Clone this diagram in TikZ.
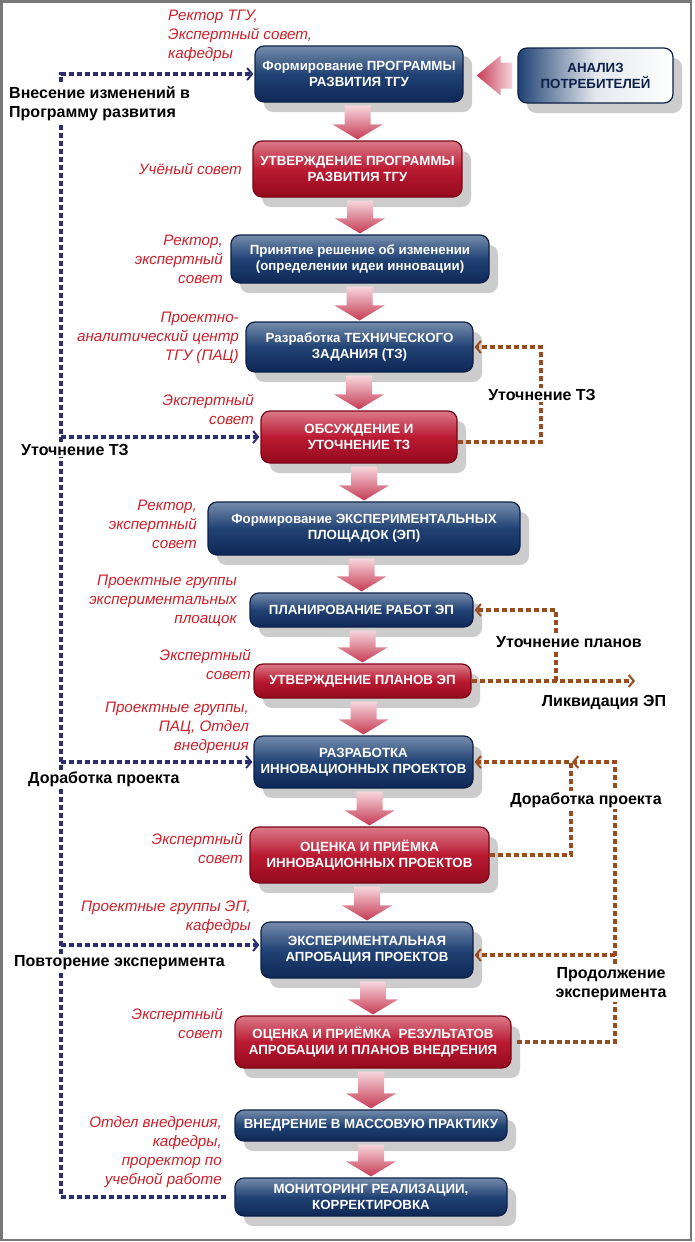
\documentclass[tikz,border=0pt]{standalone}
\usepackage{fontspec}
\setmainfont{Liberation Sans}
\usetikzlibrary{arrows.meta, calc, shadows}

\definecolor{blueT}{RGB}{118, 140, 172}
\definecolor{blueM}{RGB}{32, 66, 116}
\definecolor{blueB}{RGB}{14, 40, 86}
\definecolor{navyedge}{RGB}{12, 32, 72}
\definecolor{redT}{RGB}{218, 122, 136}
\definecolor{redM}{RGB}{186, 26, 50}
\definecolor{redB}{RGB}{148, 10, 30}
\definecolor{rededge}{RGB}{122, 4, 22}
\definecolor{arrowT}{RGB}{246, 214, 220}
\definecolor{arrowB}{RGB}{198, 58, 84}
\definecolor{whotext}{RGB}{204, 32, 42}
\definecolor{navydash}{RGB}{44, 44, 112}
\definecolor{browndash}{RGB}{152, 76, 32}
\definecolor{framegray}{RGB}{120, 120, 120}
\definecolor{shadowgray}{RGB}{204, 204, 204}

\newcommand{\blockfont}{\bfseries\fontsize{13.3}{16}\selectfont}
\newcommand{\whofont}{\itshape\fontsize{15.2}{19}\selectfont}
\newcommand{\notefont}{\bfseries\fontsize{16}{19}\selectfont}

% pink arrow between two stages
\newcommand{\flowarrow}[2]{%
  \shade[top color=arrowT, bottom color=arrowB]
    let \p1=(#1.south), \p2=(#2.north) in
    (\x2-13pt,\y1-3pt) -- (\x2+13pt,\y1-3pt) -- (\x2+13pt,\y2+16pt) -- (\x2+25pt,\y2+16pt)
    -- (\x2,\y2+1pt) -- (\x2-25pt,\y2+16pt) -- (\x2-13pt,\y2+16pt) -- cycle;}

\begin{document}
\begin{tikzpicture}[x=1pt, y=1pt,
  box/.style={rounded corners=9pt, line width=1.2pt, align=center, inner sep=0pt, font=\blockfont,
    drop shadow={shadow xshift=9pt, shadow yshift=-10pt, fill=shadowgray, opacity=1}},
  bluebox/.style={box, draw=navyedge, top color=blueT, bottom color=blueB, middle color=blueM, text=white},
  redbox/.style={box, draw=rededge, top color=redT, bottom color=redB, middle color=redM, text=white},
  anbox/.style={box, draw=navyedge, left color=blueM, right color=white, middle color=white!88!blueM, text=navyedge},
  who/.style={font=\whofont, text=whotext, align=right, anchor=east, inner sep=1pt},
  note/.style={font=\notefont, text=black, fill=white, inner sep=1pt},
  navylink/.style={draw=navydash, line width=3.2pt, dash pattern=on 5pt off 3pt},
  brownlink/.style={draw=browndash, line width=3.2pt, dash pattern=on 5pt off 3pt},
  tip/.style={-{Straight Barb[length=5pt, width=12pt, line width=2pt]}, shorten >=1pt}
]
  \useasboundingbox (0,0) rectangle (694,-1242);
  \draw[framegray, line width=2.5pt] (1.5,-1.5) rectangle (691,-1240);

  % stages
  \node[bluebox, minimum width=208, minimum height=56] (form) at (359,-74) {Формирование ПРОГРАММЫ\\РАЗВИТИЯ ТГУ};
  \node[anbox, minimum width=155, minimum height=55] (an) at (595.5,-75.5) {АНАЛИЗ\\ПОТРЕБИТЕЛЕЙ};
  \node[redbox, minimum width=209, minimum height=56] (utv) at (357.5,-169) {УТВЕРЖДЕНИЕ ПРОГРАММЫ\\РАЗВИТИЯ ТГУ};
  \node[bluebox, minimum width=258, minimum height=48] (prin) at (360,-259) {Принятие решение об изменении\\(определении идеи инновации)};
  \node[bluebox, minimum width=227, minimum height=50] (tz) at (359.5,-347) {Разработка ТЕХНИЧЕСКОГО\\ЗАДАНИЯ (ТЗ)};
  \node[redbox, minimum width=196, minimum height=52] (obs) at (359,-437) {ОБСУЖДЕНИЕ И\\УТОЧНЕНИЕ ТЗ};
  \node[bluebox, minimum width=312, minimum height=53] (plosh) at (364,-528.5) {Формирование ЭКСПЕРИМЕНТАЛЬНЫХ\\ПЛОЩАДОК (ЭП)};
  \node[bluebox, minimum width=223, minimum height=34] (plan) at (361.5,-610) {ПЛАНИРОВАНИЕ РАБОТ ЭП};
  \node[redbox, minimum width=217, minimum height=34] (utvp) at (362.5,-681) {УТВЕРЖДЕНИЕ ПЛАНОВ ЭП};
  \node[bluebox, minimum width=219, minimum height=52] (razr) at (363.5,-762) {РАЗРАБОТКА\\ИННОВАЦИОННЫХ ПРОЕКТОВ};
  \node[redbox, minimum width=239, minimum height=56] (ocp) at (369.5,-855) {ОЦЕНКА И ПРИЁМКА\\ИННОВАЦИОННЫХ ПРОЕКТОВ};
  \node[bluebox, minimum width=212, minimum height=56] (apr) at (367,-950) {ЭКСПЕРИМЕНТАЛЬНАЯ\\АПРОБАЦИЯ ПРОЕКТОВ};
  \node[redbox, minimum width=276, minimum height=52] (ocr) at (373,-1042) {ОЦЕНКА И ПРИЁМКА\ \ РЕЗУЛЬТАТОВ\\АПРОБАЦИИ И ПЛАНОВ ВНЕДРЕНИЯ};
  \node[bluebox, minimum width=272, minimum height=31] (vnedr) at (371,-1125.5) {ВНЕДРЕНИЕ В МАССОВУЮ ПРАКТИКУ};
  \node[bluebox, minimum width=272, minimum height=38] (mon) at (371,-1197) {МОНИТОРИНГ РЕАЛИЗАЦИИ,\\КОРРЕКТИРОВКА};

  % pink arrows
  \foreach \a/\b in {form/utv, utv/prin, prin/tz, tz/obs, obs/plosh, plosh/plan, plan/utvp,
                     utvp/razr, razr/ocp, ocp/apr, apr/ocr, ocr/vnedr, vnedr/mon}
    \flowarrow{\a}{\b};
  \shade[left color=arrowB, right color=arrowT]
    let \p1=(form.east), \p2=(an.west) in
    (\x1+13pt,\y2) -- (\x1+37pt,\y2+20pt) -- (\x1+37pt,\y2+13pt) -- (\x2-5pt,\y2+13pt)
    -- (\x2-5pt,\y2-13pt) -- (\x1+37pt,\y2-13pt) -- (\x1+37pt,\y2-20pt) -- cycle;

  % feedback lines
  \coordinate (rail) at (61,0);
  \coordinate (c1) at (541,0);
  \coordinate (c2) at (556,0);
  \coordinate (c3) at (571,0);
  \coordinate (c4) at (615,0);
  \coordinate (liq) at (636,-681);

  \draw[navylink, tip] ([xshift=-8pt]mon.west) -| (form.west -| rail) -- (form.west);
  \draw[navylink, tip] (obs.west -| rail) -- (obs.west);
  \draw[navylink, tip] (razr.west -| rail) -- (razr.west);
  \draw[navylink, tip] ([yshift=5pt]apr.west -| rail) -- ([yshift=5pt]apr.west);

  \draw[brownlink, tip] ([yshift=-5pt]obs.east) -| (tz.east -| c1) -- (tz.east);
  \draw[brownlink, tip] (utvp.east) -- (liq);
  \draw[brownlink, tip] (utvp.east -| c2) -- (plan.east -| c2) -- (plan.east);
  \draw[brownlink, tip] (ocp.east) -| (razr.east -| c3) -- (razr.east);
  \draw[brownlink, tip] ([xshift=5pt]ocr.east) -| (razr.east -| c4) -- (razr.east -| c3);
  \draw[brownlink, tip] ([yshift=-5pt]apr.east -| c4) -- ([yshift=-5pt]apr.east);

  % who does it
  \node[who, align=left, anchor=west] (w1) at (167,-36) {Ректор ТГУ,\\Экспертный совет,\\кафедры};
  \node[who] (w2) at (243,-169) {Учёный совет};
  \node[who] (w3) at (224,-259) {Ректор,\\экспертный\\совет};
  \node[who] (w4) at (240,-338) {Проектно-\\аналитический центр\\ТГУ (ПАЦ)};
  \node[who] (w5) at (255,-409) {Экспертный\\совет};
  \node[who] (w6) at (198,-524) {Ректор,\\экспертный\\совет};
  \node[who] (w7) at (238,-601) {Проектные группы\\экспериментальных\\плоащок};
  \node[who] (w8) at (252,-664) {Экспертный\\совет};
  \node[who] (w9) at (250,-728) {Проектные группы,\\ПАЦ, Отдел\\внедрения};
  \node[who] (w10) at (244,-848) {Экспертный\\совет};
  \node[who] (w11) at (252,-917) {Проектные группы ЭП,\\кафедры};
  \node[who] (w12) at (224,-1023) {Экспертный\\совет};
  \node[who] (w13) at (223,-1152) {Отдел внедрения,\\кафедры,\\проректор по\\учебной работе};

  % line labels
  \node[note, align=left, anchor=west] (n1) at (8,-103.5) {Внесение изменений в\\Программу развития};
  \node[note, anchor=west] (n2) at (20,-450) {Уточнение ТЗ};
  \node[note, anchor=west] (n3) at (27,-779) {Доработка проекта};
  \node[note, anchor=west] (n4) at (13,-963) {Повторение эксперимента};
  \node[note] (n5) at (542,-395) {Уточнение ТЗ};
  \node[note] (n6) at (569,-642) {Уточнение планов};
  \node[note, fill=none] (n7) at (604,-702) {Ликвидация ЭП};
  \node[note] (n8) at (586,-800) {Доработка проекта};
  \node[note, align=center] (n9) at (611,-984) {Продолжение\\эксперимента};
\end{tikzpicture}
\end{document}
